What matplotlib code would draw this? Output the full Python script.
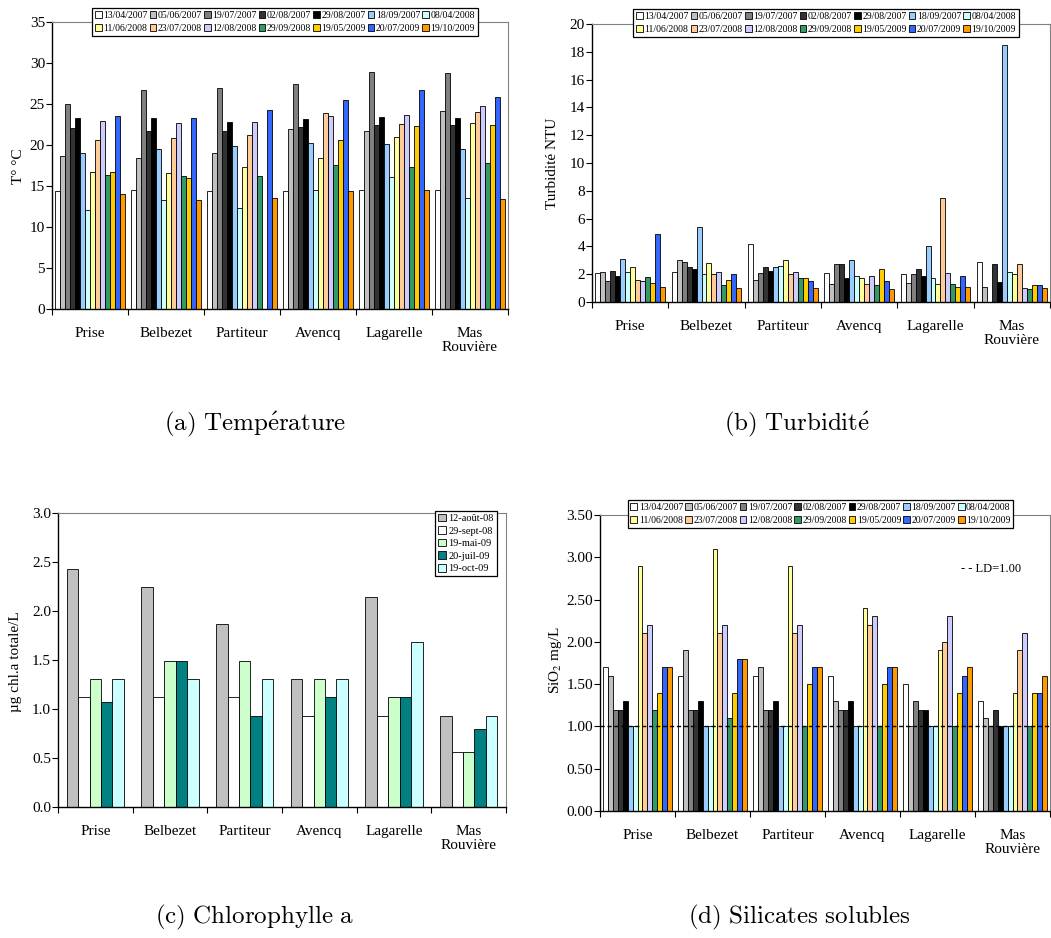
import numpy as np
import matplotlib.pyplot as plt

plt.rcParams['font.family'] = ['Liberation Serif', 'DejaVu Serif']

# sites and sampling dates
sites = ['Prise', 'Belbezet', 'Partiteur', 'Avencq', 'Lagarelle', 'Mas\nRouvière']
dates = ['13/04/2007', '05/06/2007', '19/07/2007', '02/08/2007', '29/08/2007',
         '18/09/2007', '08/04/2008', '11/06/2008', '23/07/2008', '12/08/2008',
         '29/09/2008', '19/05/2009', '20/07/2009', '19/10/2009']
date_colors = ['#FFFFFF', '#C0C0C0', '#808080', '#333333', '#000000',
               '#99CCFF', '#CCFFFF', '#FFFF99', '#FFCC99', '#CCCCFF',
               '#339966', '#FFCC00', '#3366FF', '#FF9900']

# temperature (°C), one row per site, one column per date (None = no data)
temp = [
    [14.4, 18.7, 25.0, 22.1, 23.3, 19.0, 12.1, 16.7, 20.6, 23.0, 16.4, 16.7, 23.6, 14.1],
    [14.5, 18.5, 26.7, 21.8, 23.3, 19.5, 13.3, 16.6, 20.9, 22.7, 16.3, 16.0, 23.3, 13.3],
    [14.4, 19.0, 27.0, 21.8, 22.9, 19.9, 12.3, 17.3, 21.2, 22.9, 16.2, None, 24.3, 13.6],
    [14.4, 22.0, 27.5, 22.2, 23.2, 20.3, 14.5, 18.5, 24.0, 23.6, 17.6, 20.7, 25.5, 14.4],
    [14.5, 21.7, 28.9, 22.5, 23.5, 20.1, 16.1, 21.0, 22.6, 23.7, 17.4, 22.3, 26.7, 14.5],
    [14.5, 24.2, 28.8, 22.5, 23.3, 19.5, 13.6, 22.7, 24.1, 24.8, 17.8, 22.5, 25.9, 13.4],
]

# turbidity (NTU)
turb = [
    [2.1, 2.15, 1.5, 2.2, 1.85, 3.1, 2.15, 2.5, 1.6, 1.5, 1.8, 1.4, 4.9, 1.1],
    [2.15, 3.0, 2.85, 2.55, 2.35, 5.4, 2.0, 2.8, 2.0, 2.15, 1.25, 1.6, 2.0, 1.0],
    [4.2, 1.6, 2.1, 2.5, 2.2, 2.5, 2.6, 3.0, 2.0, 2.15, 1.75, 1.7, 1.5, 1.0],
    [2.1, 1.3, 2.7, 2.75, 1.7, 3.0, 1.9, 1.7, 1.3, 1.9, 1.25, 2.4, 1.5, 0.9],
    [2.0, 1.4, 2.05, 2.4, 1.9, 4.0, 1.7, 1.3, 7.5, 2.1, 1.27, 1.05, 1.9, 1.1],
    [2.9, 1.1, None, 2.7, 1.45, 18.5, 2.15, 2.0, 2.7, 1.0, 0.9, 1.25, 1.2, 1.0],
]

# soluble silicates (mg/L SiO2)
sio2 = [
    [1.7, 1.6, 1.2, 1.2, 1.3, 1.0, 1.0, 2.9, 2.1, 2.2, 1.2, 1.4, 1.7, 1.7],
    [1.6, 1.9, 1.2, 1.2, 1.3, 1.0, 1.0, 3.1, 2.1, 2.2, 1.1, 1.4, 1.8, 1.8],
    [1.6, 1.7, 1.2, 1.2, 1.3, 1.0, 1.0, 2.9, 2.1, 2.2, 1.0, 1.5, 1.7, 1.7],
    [1.6, 1.3, 1.2, 1.2, 1.3, 1.0, 1.0, 2.4, 2.2, 2.3, 1.0, 1.5, 1.7, 1.7],
    [1.5, 1.0, 1.3, 1.2, 1.2, 1.0, 1.0, 1.9, 2.0, 2.3, 1.0, 1.4, 1.6, 1.7],
    [1.3, 1.1, 1.0, 1.2, 1.0, 1.0, 1.0, 1.4, 1.9, 2.1, 1.0, 1.4, 1.4, 1.6],
]
ld_sio2 = 1.00

# total chlorophyll a (µg/L)
chl_dates = ['12-août-08', '29-sept-08', '19-mai-09', '20-juil-09', '19-oct-09']
chl_colors = ['#C0C0C0', '#FFFFFF', '#CCFFCC', '#008080', '#CCFFFF']
chl = [
    [2.43, 1.12, 1.31, 1.07, 1.31],
    [2.25, 1.12, 1.49, 1.49, 1.31],
    [1.87, 1.12, 1.49, 0.93, 1.31],
    [1.31, 0.93, 1.31, 1.12, 1.31],
    [2.14, 0.93, 1.12, 1.12, 1.68],
    [0.93, 0.56, 0.56, 0.80, 0.93],
]

W, H = 1051, 938
fig = plt.figure(figsize=(W / 100, H / 100), dpi=100)


def px_axes(l, t, r, b):
    return fig.add_axes([l / W, 1 - b / H, (r - l) / W, (b - t) / H])


def grouped_bars(ax, data, colors, width):
    arr = np.array(data, dtype=float)  # None -> nan
    n = arr.shape[1]
    x = np.arange(len(sites))
    bars = []
    for i in range(n):
        b = ax.bar(x + (i - (n - 1) / 2) * width, arr[:, i], width,
                   color=colors[i], edgecolor='black', linewidth=0.6)
        bars.append(b)
    return bars


def style_axes(ax, ymax, step, fmt):
    ax.set_xlim(-0.5, len(sites) - 0.5)
    ax.set_ylim(0, ymax)
    ax.set_yticks(np.arange(0, ymax + step / 2, step))
    ax.set_yticklabels([fmt.format(v) for v in np.arange(0, ymax + step / 2, step)])
    # tick marks between sites, labels at site centres
    ax.set_xticks(np.arange(-0.5, len(sites), 1.0))
    ax.set_xticklabels([])
    ax.set_xticks(np.arange(len(sites)), minor=True)
    ax.set_xticklabels(sites, minor=True, fontsize=11, linespacing=1.1)
    ax.tick_params(axis='x', which='major', direction='out', length=4, width=0.8)
    ax.tick_params(axis='x', which='minor', length=0, pad=13)
    ax.tick_params(axis='y', direction='out', length=4, width=0.8, pad=1, labelsize=11)
    for s in ['top', 'right']:
        ax.spines[s].set_color('#808080')
        ax.spines[s].set_linewidth(0.8)
    for s in ['left', 'bottom']:
        ax.spines[s].set_linewidth(1.0)


def two_row_legend(ax, bars, cx, cy):
    # ncol fills column-wise, so interleave to get dates row by row
    order = []
    for k in range(7):
        order += [k, k + 7]
    leg = ax.legend([bars[k] for k in order], [dates[k] for k in order],
                    ncol=7, loc='center', bbox_to_anchor=(cx / W, 1 - cy / H),
                    bbox_transform=fig.transFigure, fontsize=7,
                    handlelength=0.7, handleheight=0.7, handletextpad=0.15,
                    columnspacing=0.2, labelspacing=0.35, borderpad=0.3,
                    fancybox=False, framealpha=1, edgecolor='black')
    leg.get_frame().set_linewidth(0.9)
    return leg


# (a) temperature
ax1 = px_axes(52, 22.5, 508, 309)
b1 = grouped_bars(ax1, temp, date_colors, 0.065)
style_axes(ax1, 35, 5, '{:.0f}')
two_row_legend(ax1, b1, 285, 22)
fig.text(19 / W, 1 - 166 / H, 'T° °C', rotation=90, ha='center', va='center', fontsize=11)

# (b) turbidity
ax2 = px_axes(592, 24, 1050, 302)
b2 = grouped_bars(ax2, turb, date_colors, 0.065)
style_axes(ax2, 20, 2, '{:.0f}')
two_row_legend(ax2, b2, 826, 23)
fig.text(552 / W, 1 - 163 / H, 'Turbidité NTU', rotation=90, ha='center', va='center', fontsize=11)

# (c) chlorophyll a
ax3 = px_axes(58, 513, 506, 807)
b3 = grouped_bars(ax3, chl, chl_colors, 0.153)
style_axes(ax3, 3.0, 0.5, '{:.1f}')
leg3 = ax3.legend(b3, chl_dates, loc='center', bbox_to_anchor=(466 / W, 1 - 543.5 / H),
                  bbox_transform=fig.transFigure, fontsize=7.5,
                  handlelength=0.75, handleheight=0.75, handletextpad=0.2,
                  labelspacing=0.3, borderpad=0.3, fancybox=False,
                  framealpha=1, edgecolor='black')
leg3.get_frame().set_linewidth(0.9)
fig.text(16 / W, 1 - 662 / H, 'µg chl.a totale/L', rotation=90, ha='center', va='center', fontsize=11)

# (d) soluble silicates, with detection limit
ax4 = px_axes(600, 515, 1050, 811)
b4 = grouped_bars(ax4, sio2, date_colors, 0.066)
style_axes(ax4, 3.5, 0.5, '{:.2f}')
ax4.axhline(ld_sio2, color='black', linestyle=(0, (3, 2)), linewidth=1.0, zorder=3)
ax4.text(961 / W, 1 - 569 / H, '- - LD=1.00', transform=fig.transFigure,
         fontsize=9, ha='left', va='center')
two_row_legend(ax4, b4, 820.5, 514)
fig.text(555 / W, 1 - 660 / H, 'SiO$_2$ mg/L', rotation=90, ha='center', va='center',
         fontsize=11, math_fontfamily='stix')

# sub-figure captions
caps = [(255, 424, r'$\mathrm{(a)\ Temp\acute{e}rature}$'),
        (797, 424, r'$\mathrm{(b)\ Turbidit\acute{e}}$'),
        (255, 917, r'$\mathrm{(c)\ Chlorophylle\ a}$'),
        (799, 917, r'$\mathrm{(d)\ Silicates\ solubles}$')]
for cx, cy, txt in caps:
    fig.text(cx / W, 1 - cy / H, txt, ha='center', va='center', fontsize=18,
             math_fontfamily='cm')

fig.savefig('out.png', dpi=100)
